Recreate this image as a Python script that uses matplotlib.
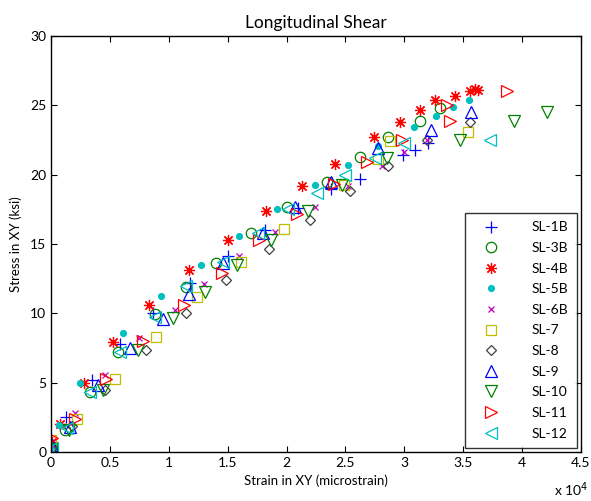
import matplotlib.pyplot as plt
from matplotlib.ticker import FuncFormatter

plt.rcParams['font.family'] = ['Lato', 'DejaVu Sans']

# strain in microstrain, stress in ksi
sl1b_x = [100, 1300, 3500, 5900, 8700, 11800, 15000, 18200, 21000, 23800, 26200, 29900, 30900, 32000]
sl1b_y = [0.5, 2.5, 5.2, 7.8, 10.0, 12.2, 14.1, 16.0, 17.6, 19.0, 19.7, 21.4, 21.8, 22.3]
sl3b_x = [100, 1200, 3300, 5700, 8800, 11500, 14000, 17000, 20000, 23400, 26200, 28600, 31300, 33000]
sl3b_y = [0.3, 1.6, 4.3, 7.2, 9.95, 11.9, 13.6, 15.8, 17.7, 19.45, 21.3, 22.7, 23.9, 24.8]
sl4b_x = [100, 800, 2800, 5300, 8300, 11700, 15050, 18250, 21300, 24100, 27400, 29600, 31300, 32600,
          34300, 35600, 36000, 36300]
sl4b_y = [0.7, 2.0, 5.0, 7.9, 10.6, 13.1, 15.3, 17.4, 19.2, 20.8, 22.7, 23.8, 24.7, 25.4,
          25.7, 26.0, 26.2, 26.1]
sl5b_x = [100, 700, 2500, 6100, 9300, 12700, 16000, 19200, 22400, 25200, 27800, 30800, 32700, 34100, 35500]
sl5b_y = [0.4, 1.95, 4.95, 8.6, 11.25, 13.5, 15.6, 17.5, 19.25, 20.7, 22.1, 23.45, 24.25, 24.85, 25.4]
sl6b_x = [100, 2000, 4600, 7500, 10500, 13000, 16000, 19000, 22400, 25200, 28100, 30000, 31900]
sl6b_y = [0.5, 2.8, 5.55, 8.2, 10.25, 12.15, 14.1, 15.9, 17.7, 19.2, 20.6, 21.6, 22.5]
sl7_x = [0, 2200, 5400, 8900, 12400, 16100, 19800, 24900, 27800, 28800, 35400]
sl7_y = [0.9, 2.35, 5.25, 8.27, 11.2, 13.7, 16.1, 19.25, 21.1, 22.4, 23.1]
sl8_x = [100, 1800, 4600, 8100, 11500, 14900, 18500, 22000, 25400, 28600, 31900, 35600]
sl8_y = [0.3, 1.9, 4.5, 7.35, 10.05, 12.4, 14.65, 16.7, 18.8, 20.6, 22.5, 23.8]
sl9_x = [100, 1600, 4000, 6700, 9500, 11700, 14600, 18000, 20700, 23800, 27800, 32300, 35700]
sl9_y = [0.5, 1.8, 4.8, 7.5, 9.6, 11.4, 13.6, 15.8, 17.7, 19.5, 21.9, 23.2, 24.5]
sl10_x = [100, 1500, 4400, 7400, 10400, 13100, 15800, 18700, 21800, 24700, 28500, 34700, 39300, 42100]
sl10_y = [0.2, 1.6, 4.5, 7.35, 9.65, 11.55, 13.5, 15.3, 17.4, 19.25, 21.2, 22.5, 23.9, 24.5]
sl11_x = [100, 2000, 4700, 7800, 11300, 14500, 17700, 20900, 24000, 26800, 29800, 33600, 33900, 38700]
sl11_y = [1.0, 2.4, 5.3, 8.0, 10.6, 12.9, 15.3, 17.2, 19.3, 20.9, 22.5, 25.0, 23.9, 26.0]
sl12_x = [100, 1400, 3300, 5900, 8800, 11500, 14600, 17600, 20100, 22600, 25000, 27500, 30000, 37300]
sl12_y = [0.3, 1.7, 4.35, 7.2, 9.75, 12.0, 13.7, 15.8, 17.5, 18.7, 20.0, 21.2, 22.3, 22.5]

labels = ['SL-1B', 'SL-3B', 'SL-4B', 'SL-5B', 'SL-6B', 'SL-7', 'SL-8',
          'SL-9', 'SL-10', 'SL-11', 'SL-12']
xs = [sl1b_x, sl3b_x, sl4b_x, sl5b_x, sl6b_x, sl7_x, sl8_x, sl9_x, sl10_x, sl11_x, sl12_x]
ys = [sl1b_y, sl3b_y, sl4b_y, sl5b_y, sl6b_y, sl7_y, sl8_y, sl9_y, sl10_y, sl11_y, sl12_y]

colors = ['#0000ff', '#008000', '#ff0000', '#00bfbf', '#bf00bf', '#bfbf00',
          '#404040', '#0000ff', '#008000', '#ff0000', '#00bfbf']
markers = ['+', 'o', (8, 2, 0), '.', 'x', 's', 'D', '^', 'v', '>', '<']
sizes = [8.5, 7.5, 8, 8.5, 4.5, 7.5, 5.5, 8, 8, 8, 8]

fig = plt.figure(figsize=(5.91, 5.01), dpi=100)
ax = fig.add_axes([0.0863, 0.0978, 0.8967, 0.8303])

for x, y, lab, c, m, s in zip(xs, ys, labels, colors, markers, sizes):
    filled = m == '.'
    ax.plot(x, y, linestyle='none', marker=m, markersize=s, color=c,
            markerfacecolor=c if filled else 'none', markeredgecolor=c,
            markeredgewidth=0.9, label=lab)

ax.set_xlim(0, 45000)
ax.set_ylim(0, 30)
ax.set_xticks(range(0, 45001, 5000))
ax.set_yticks(range(0, 31, 5))
ax.xaxis.set_major_formatter(FuncFormatter(lambda v, p: '%g' % (v / 1e4)))
ax.tick_params(direction='in', top=True, right=True, labelsize=10, length=4)
for sp in ax.spines.values():
    sp.set_linewidth(1.0)

ax.set_title('Longitudinal Shear', fontsize=12.5, pad=6)
ax.set_xlabel('Strain in XY (microstrain)', fontsize=9.5, labelpad=4)
ax.set_ylabel('Stress in XY (ksi)', fontsize=9.5, labelpad=6)
ax.text(0.95, -0.106, r'x 10$^4$', transform=ax.transAxes, fontsize=10, va='baseline')

leg = ax.legend(loc='lower right', fontsize=10, frameon=True, fancybox=False,
                edgecolor='black', borderaxespad=0.3, handlelength=2.5,
                handletextpad=1.7, labelspacing=0.62, borderpad=0.6)
leg.get_frame().set_linewidth(1.0)

fig.savefig('out.png', dpi=100)
